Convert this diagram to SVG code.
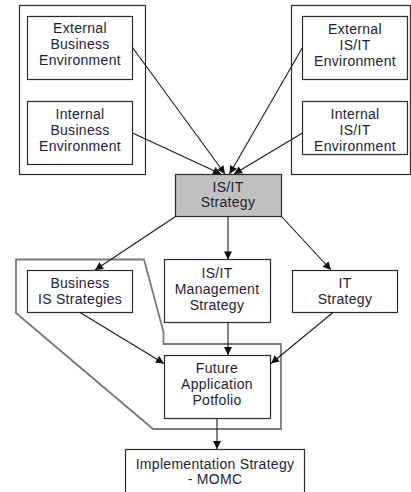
<svg xmlns="http://www.w3.org/2000/svg" width="411" height="492" viewBox="0 0 411 492">
  <style>
    .box { fill: #ffffff; stroke: #2b2b2b; stroke-width: 1.2; }
    .frame { fill: none; stroke: #2b2b2b; stroke-width: 1.2; }
    .hub { fill: #c0c0c0; stroke: #2b2b2b; stroke-width: 1.2; }
    .scope { fill: none; stroke: #7a7a7a; stroke-width: 1.8; stroke-linejoin: miter; }
    .lbl { font-family: "Liberation Sans", Arial, sans-serif; font-size: 14px; letter-spacing: 0.3px; fill: #231d35; text-anchor: middle; }
    .edge { fill: none; stroke: #1a1a1a; stroke-width: 1.1; marker-end: url(#arrow); }
  </style>
  <defs>
    <marker id="arrow" viewBox="0 0 10 10" refX="10" refY="5" markerUnits="userSpaceOnUse" markerWidth="9" markerHeight="8" orient="auto">
      <path d="M0,0 L10,5 L0,10 z" fill="#111111"/>
    </marker>
  </defs>

  <rect width="411" height="492" fill="#ffffff"/>

  <!-- environment frames -->
  <g id="business-environment-frame">
    <rect class="frame" x="19.5" y="5.5" width="126" height="169"/>
  </g>
  <g id="isit-environment-frame">
    <rect class="frame" x="291.5" y="5.5" width="119" height="169"/>
  </g>

  <!-- scope outline around business strategies and portfolio -->
  <g id="portfolio-scope">
    <polygon class="scope" points="16,259.5 144,259.5 163.5,332 163.5,344 281,344 281,429 153,429 16,313"/>
  </g>

  <g id="external-business">
    <rect class="box" x="27.5" y="16.5" width="105" height="63"/>
    <text class="lbl" x="80" y="33">External</text>
    <text class="lbl" x="80" y="49">Business</text>
    <text class="lbl" x="80" y="65">Environment</text>
  </g>
  <g id="internal-business">
    <rect class="box" x="27.5" y="101.5" width="105" height="63"/>
    <text class="lbl" x="80" y="118.5">Internal</text>
    <text class="lbl" x="80" y="134.5">Business</text>
    <text class="lbl" x="80" y="151">Environment</text>
  </g>
  <g id="external-isit">
    <rect class="box" x="302.5" y="16.5" width="105" height="63"/>
    <text class="lbl" x="355" y="33.5">External</text>
    <text class="lbl" x="355" y="49.5">IS/IT</text>
    <text class="lbl" x="355" y="65.5">Environment</text>
  </g>
  <g id="internal-isit">
    <rect class="box" x="302.5" y="101.5" width="105" height="53"/>
    <text class="lbl" x="355" y="119">Internal</text>
    <text class="lbl" x="355" y="135">IS/IT</text>
    <text class="lbl" x="355" y="151">Environment</text>
  </g>

  <g id="isit-strategy">
    <rect class="hub" x="175.5" y="174.5" width="106" height="42"/>
    <text class="lbl" x="228" y="192">IS/IT</text>
    <text class="lbl" x="228" y="207">Strategy</text>
  </g>

  <g id="business-is-strategies">
    <rect class="box" x="27.5" y="270.5" width="105" height="42"/>
    <text class="lbl" x="80" y="288">Business</text>
    <text class="lbl" x="80" y="303.5">IS Strategies</text>
  </g>
  <g id="isit-management-strategy">
    <rect class="box" x="164.5" y="259.5" width="106" height="63"/>
    <text class="lbl" x="217" y="277.5">IS/IT</text>
    <text class="lbl" x="217" y="293.5">Management</text>
    <text class="lbl" x="217" y="309.5">Strategy</text>
  </g>
  <g id="it-strategy">
    <rect class="box" x="292.5" y="270.5" width="105" height="42"/>
    <text class="lbl" x="345" y="288">IT</text>
    <text class="lbl" x="345" y="303.5">Strategy</text>
  </g>

  <g id="future-application-portfolio">
    <rect class="box" x="164.5" y="355.5" width="106" height="63"/>
    <text class="lbl" x="217" y="373">Future</text>
    <text class="lbl" x="217" y="389">Application</text>
    <text class="lbl" x="217" y="405">Potfolio</text>
  </g>

  <g id="implementation-strategy">
    <rect class="box" x="125.5" y="449.5" width="179" height="60"/>
    <text class="lbl" x="215" y="468.5">Implementation Strategy</text>
    <text class="lbl" x="215" y="484">- MOMC</text>
  </g>

  <g id="connectors">
    <line class="edge" x1="132.5" y1="47.5" x2="225" y2="174"/>
    <line class="edge" x1="132.5" y1="133" x2="221" y2="174"/>
    <line class="edge" x1="302.5" y1="47.5" x2="229.5" y2="174"/>
    <line class="edge" x1="302.5" y1="133" x2="234" y2="174"/>
    <line class="edge" x1="175.5" y1="216.5" x2="95" y2="270"/>
    <line class="edge" x1="228" y1="216.5" x2="228" y2="259.5"/>
    <line class="edge" x1="281.5" y1="216.5" x2="331" y2="270"/>
    <line class="edge" x1="80" y1="312.5" x2="164" y2="363.5"/>
    <line class="edge" x1="228" y1="322.5" x2="228" y2="355"/>
    <line class="edge" x1="333" y1="312.5" x2="271" y2="363.5"/>
    <line class="edge" x1="217" y1="418.5" x2="217" y2="449"/>
  </g>
</svg>
